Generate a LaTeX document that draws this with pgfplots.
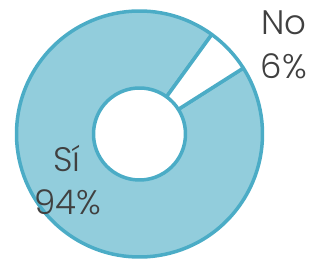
\documentclass[border=0pt]{standalone}
\usepackage{pgfplots}
\pgfplotsset{compat=1.18}
\usepackage{fontspec}
\setmainfont{Poppins}[UprightFont=* Light]
\usetikzlibrary{calc}
\definecolor{ring}{HTML}{4BACC6}
\definecolor{fillb}{HTML}{92CDDC}
\definecolor{txt}{HTML}{404040}
% data: share (percent)
\def\valSi{94}
\def\valNo{6}
\def\startNo{32.4}
\begin{document}
\begin{tikzpicture}
\begin{axis}[name=ax,x=1pt,y=1pt,xmin=0,xmax=310,ymin=0,ymax=259,hide axis,clip=false,
  scale only axis]
\pgfmathsetmacro{\aA}{\startNo}
\pgfmathsetmacro{\aB}{\startNo+\valNo*3.6}
\pgfmathsetmacro{\aC}{\aB+\valSi*3.6}
\coordinate (c) at (axis cs:139.5,125);
% Si slice
\filldraw[fill=fillb,draw=ring,line width=3.5pt,line join=round]
  ($(c)+(\aB:123pt)$) arc[start angle=\aB,end angle=\aC,radius=123pt]
  -- ($(c)+(\aC:46pt)$) arc[start angle=\aC,end angle=\aB,radius=46pt] -- cycle;
% No slice
\filldraw[fill=white,draw=ring,line width=3.5pt,line join=round]
  ($(c)+(\aA:123pt)$) arc[start angle=\aA,end angle=\aB,radius=123pt]
  -- ($(c)+(\aB:46pt)$) arc[start angle=\aB,end angle=\aA,radius=46pt] -- cycle;
\node[anchor=base,text=txt,font=\fontsize{34}{34}\selectfont] at (axis cs:284,224) {No};
\node[anchor=base,text=txt,font=\fontsize{34}{34}\selectfont] at (axis cs:284,180) {6\%};
\node[anchor=base,text=txt,font=\fontsize{34}{34}\selectfont] at (axis cs:67,87) {Sí};
\node[anchor=base,text=txt,font=\fontsize{34}{34}\selectfont] at (axis cs:68,44) {94\%};
\end{axis}
\pgfresetboundingbox
\path (ax.south west) rectangle (ax.north east);
\end{tikzpicture}
\end{document}
